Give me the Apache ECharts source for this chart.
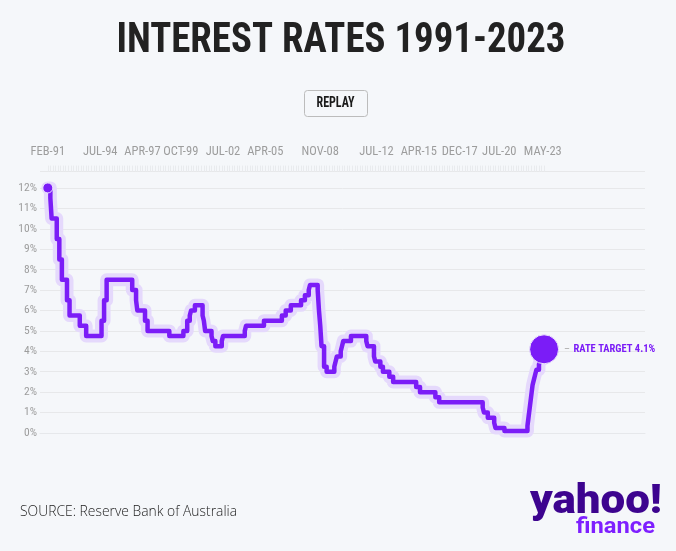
<!DOCTYPE html>
<html><head><meta charset="utf-8">
<script src="https://cdn.jsdelivr.net/npm/echarts@6/dist/echarts.min.js"></script>
<style>html,body{margin:0;padding:0;background:#f5f7fa}#c{width:676px;height:551px}</style>
</head><body><div id="c"></div>
<script>
// Cash-rate change months (YYYY-MM) and the rate (%) from that month on
const changeMonths = [
 '1991-02','1991-04','1991-05','1991-09','1991-11','1992-01','1992-05','1992-07','1993-03','1993-08',
 '1994-08','1994-10','1994-12','1996-08','1996-11','1996-12','1997-06','1997-08','1999-01','1999-12',
 '2000-03','2000-05','2000-06','2000-09','2001-03','2001-04','2001-05','2001-10','2001-11','2002-01',
 '2002-06','2002-07','2003-12','2004-01','2005-03','2006-05','2006-08','2006-12','2007-08','2007-11',
 '2008-02','2008-03','2008-09','2008-10','2008-11','2008-12','2009-02','2009-04','2009-10','2009-11',
 '2009-12','2010-03','2010-04','2010-05','2010-11','2011-11','2011-12','2012-05','2012-06','2012-10',
 '2012-12','2013-05','2013-08','2015-02','2015-05','2016-05','2016-08','2019-06','2019-07','2019-10',
 '2020-03','2020-04','2020-11','2022-05','2022-06','2022-07','2022-08','2022-09','2022-10','2022-11',
 '2022-12','2023-02','2023-03','2023-05','2023-06'
];
const rates = [
 12, 11.5, 10.5, 9.5, 8.5, 7.5, 6.5, 5.75, 5.25, 4.75,
 5.5, 6.5, 7.5, 7.0, 6.5, 6.0, 5.5, 5.0, 4.75, 5.0,
 5.5, 5.75, 6.0, 6.25, 5.75, 5.5, 5.0, 4.75, 4.5, 4.25,
 4.5, 4.75, 5.0, 5.25, 5.5, 5.75, 6.0, 6.25, 6.5, 6.75,
 7.0, 7.25, 7.0, 6.0, 5.25, 4.25, 3.25, 3.0, 3.25, 3.5,
 3.75, 4.0, 4.25, 4.5, 4.75, 4.5, 4.25, 3.75, 3.5, 3.25,
 3.0, 2.75, 2.5, 2.25, 2.0, 1.75, 1.5, 1.25, 1.0, 0.75,
 0.5, 0.25, 0.1, 0.35, 0.85, 1.35, 1.85, 2.35, 2.6, 2.85,
 3.1, 3.35, 3.6, 3.85, 4.1
];
const tickLabels = ['FEB-91','JUL-94','APR-97','OCT-99','JUL-02','APR-05','NOV-08','JUL-12','APR-15','DEC-17','JUL-20','MAY-23'];

const MONTHS = ['JAN','FEB','MAR','APR','MAY','JUN','JUL','AUG','SEP','OCT','NOV','DEC'];
function monthIndex(s){ const p = s.split('-').map(Number); return (p[0]-1991)*12 + (p[1]-2); }
function labelIndex(l){ const p = l.split('-'); const yy = +p[1]; const y = yy < 50 ? 2000+yy : 1900+yy; return (y-1991)*12 + MONTHS.indexOf(p[0]) - 1; }

const seriesData = changeMonths.map((d,i)=>[monthIndex(d), rates[i]]);
const labelIdx = tickLabels.map(labelIndex);
const lastIdx = seriesData[seriesData.length-1][0];
const bandTicks = [];
for (let m = 0; m <= lastIdx; m += 2) bandTicks.push(m);

const PURPLE = '#7b1cf7';
const COND = "'Roboto Condensed','Roboto',sans-serif";
const XMIN = -6.1, XMAX = 466.9;

const mctx = document.createElement('canvas').getContext('2d');
function fit(text, font, w){ mctx.font = font; return w / mctx.measureText(text).width; }

const titleFont = "bold 42px " + COND;
const replayFont = "bold 14px " + COND;
const yahooFont = "900 40px 'Roboto',sans-serif";
const finFont = "bold 22px 'Roboto',sans-serif";
const srcFont = "300 14px 'Open Sans','Roboto',sans-serif";

const chart = echarts.init(document.getElementById('c'), null, {renderer:'canvas'});
chart.setOption({
  backgroundColor: '#f5f7fa',
  animation: false,
  grid: {left: 40, right: 31, top: 171.6, bottom: 118},
  xAxis: [{
    type: 'value', position: 'top', min: XMIN, max: XMAX,
    axisLine: {show: true, lineStyle: {color: '#e6e8eb', width: 1}},
    axisTick: {show: false},
    splitLine: {show: false},
    axisLabel: {
      customValues: labelIdx, margin: 13,
      color: '#9d9d9d', fontFamily: COND, fontSize: 12.5,
      formatter: v => { const i = labelIdx.indexOf(v); return i >= 0 ? tickLabels[i] : ''; }
    }
  }, {
    type: 'value', position: 'top', min: XMIN, max: XMAX,
    axisLine: {show: false},
    axisTick: {show: true, customValues: bandTicks, length: 6, lineStyle: {color: '#e9ebee', width: 1}},
    axisLabel: {show: false},
    splitLine: {show: false}
  }],
  yAxis: {
    type: 'value', min: 0, max: 12.8, interval: 1,
    axisLine: {show: false}, axisTick: {show: false},
    splitLine: {lineStyle: {color: '#e7e8ea', width: 1}},
    axisLabel: {
      margin: 3, color: '#9d9d9d', fontFamily: COND, fontSize: 11.5,
      formatter: v => Number.isInteger(v) ? v + '%' : ''
    }
  },
  series: [{
    type: 'line', data: seriesData, step: 'end', symbol: 'none', silent: true, z: 1,
    lineStyle: {color: '#e5d9fc', width: 13, cap: 'round', join: 'round'}
  }, {
    type: 'line', data: seriesData, step: 'end', symbol: 'none', silent: true, z: 2,
    lineStyle: {color: PURPLE, width: 4.5, join: 'round'}
  }, {
    type: 'scatter', z: 3, silent: true,
    data: [
      {value: seriesData[0], symbolSize: 10},
      {value: seriesData[seriesData.length-1], symbolSize: 29,
       label: {show: true, position: 'right', distance: 5,
         formatter: '{d|–} {t|RATE TARGET ' + rates[rates.length-1] + '%}',
         rich: {
           d: {color: '#a9a9a9', fontFamily: COND, fontSize: 10.5},
           t: {color: PURPLE, fontFamily: COND, fontSize: 10.5, fontWeight: 'bold'}
         }}}
    ],
    itemStyle: {color: PURPLE, opacity: 1, borderColor: '#ece4fd', borderWidth: 1}
  }],
  graphic: [
    {type: 'text', x: 341, y: 41, scaleX: fit('INTEREST RATES 1991-2023', titleFont, 449),
     style: {text: 'INTEREST RATES 1991-2023', align: 'center', verticalAlign: 'middle',
      fill: '#222222', font: titleFont}},
    {type: 'rect', left: 304, top: 90, shape: {width: 63, height: 26, r: 3},
     style: {fill: '#f5f7fa', stroke: '#bcbcbc', lineWidth: 1}},
    {type: 'text', x: 335.5, y: 103.5, scaleX: fit('REPLAY', replayFont, 38),
     style: {text: 'REPLAY', align: 'center', verticalAlign: 'middle', fill: '#1b1b1b', font: replayFont}},
    {type: 'text', x: 20, y: 512, scaleX: fit('SOURCE: Reserve Bank of Australia', srcFont, 217),
     style: {text: 'SOURCE: Reserve Bank of Australia', verticalAlign: 'middle', fill: '#222222', font: srcFont}},
    {type: 'text', x: 662, y: 503, scaleX: fit('yahoo!', yahooFont, 132),
     style: {text: 'yahoo!', align: 'right', verticalAlign: 'middle', fill: '#3d048f', font: yahooFont}},
    {type: 'text', x: 655, y: 527, scaleX: fit('finance', finFont, 79),
     style: {text: 'finance', align: 'right', verticalAlign: 'middle', fill: '#7e1fff', font: finFont}}
  ]
});
</script></body></html>
